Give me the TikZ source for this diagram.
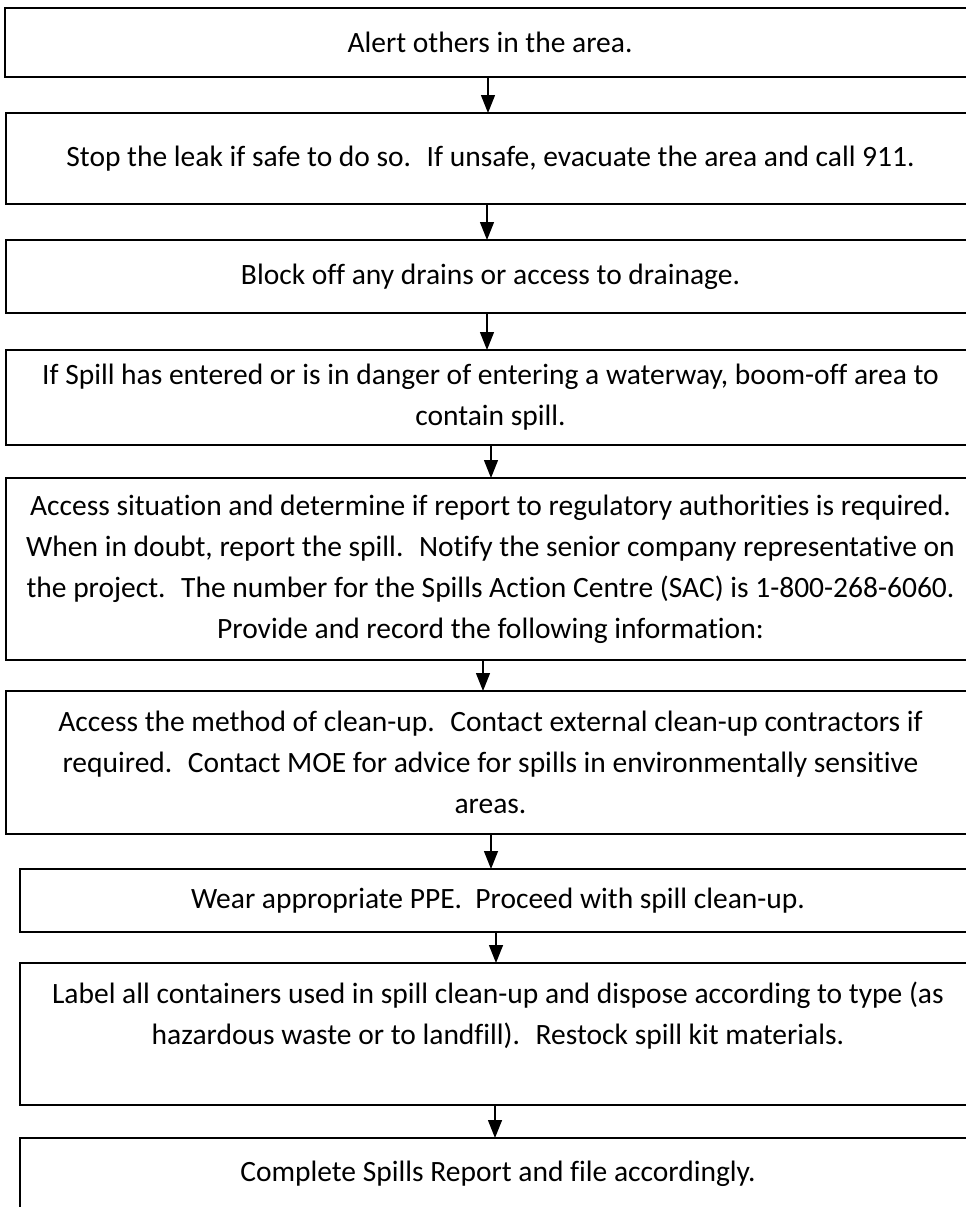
\documentclass[tikz,border=0pt]{standalone}
\usepackage{fontspec}
\setmainfont{Carlito}[Ligatures=NoCommon]
\usetikzlibrary{positioning,calc,arrows.meta}

\begin{document}
\begin{tikzpicture}[x=1pt, y=1pt,
	stepbox/.style={draw, rectangle, line width=1.4pt, anchor=north west, align=center,
		inner sep=0pt, outer sep=0pt, font=\fontsize{29.5}{41}\selectfont},
	flow/.style={-{Triangle[length=18pt,width=14pt]}, line width=1.4pt}]
	\useasboundingbox (0,0) rectangle (966,-1207);

	\node[stepbox, minimum width=970pt, minimum height=69pt] (alert) at (5,-8) {Alert others in the area.};
	\node[stepbox, minimum width=969pt, minimum height=91pt] (leak) at (6,-113) {Stop the leak if safe to do so.~ If unsafe, evacuate the area and call 911.};
	\node[stepbox, minimum width=969pt, minimum height=73pt] (drains) at (6,-240) {Block off any drains or access to drainage.};
	\node[stepbox, minimum width=969pt, minimum height=95pt] (boom) at (6,-350) {If Spill has entered or is in danger of entering a waterway, boom-off area to\\ contain spill.};
	\node[stepbox, minimum width=969pt, minimum height=182pt] (report) at (6,-478) {Access situation and determine if report to regulatory authorities is required.\\ When in doubt, report the spill.~ Notify the senior company representative on\\ the project.~ The number for the Spills Action Centre (SAC) is 1-800-268-6060.\\ Provide and record the following information:};
	\node[stepbox, minimum width=969pt, minimum height=143pt] (method) at (6,-691) {Access the method of clean-up.~ Contact external clean-up contractors if\\ required.~ Contact MOE for advice for spills in environmentally sensitive\\ areas.};
	\node[stepbox, minimum width=956pt, minimum height=63pt] (ppe) at (20,-869) {Wear appropriate PPE.~ Proceed with spill clean-up.};
	\node[stepbox, minimum width=956pt, minimum height=142pt] (label) at (20,-963) {Label all containers used in spill clean-up and dispose according to type (as\\ hazardous waste or to landfill).~ Restock spill kit materials.\\ \mbox{}};
	\node[stepbox, minimum width=956pt, minimum height=72pt] (file) at (20,-1138) {Complete Spills Report and file accordingly.};

	\draw[flow] ([xshift=-2pt]alert.south) -- ([xshift=-2pt]alert.south |- leak.north);
	\draw[flow] ([xshift=-3.5pt]leak.south) -- ([xshift=-3.5pt]leak.south |- drains.north);
	\draw[flow] ([xshift=-3.5pt]drains.south) -- ([xshift=-3.5pt]drains.south |- boom.north);
	\draw[flow] ([xshift=0.5pt]boom.south) -- ([xshift=0.5pt]boom.south |- report.north);
	\draw[flow] ([xshift=-7.5pt]report.south) -- ([xshift=-7.5pt]report.south |- method.north);
	\draw[flow] ([xshift=0.5pt]method.south) -- ([xshift=0.5pt]method.south |- ppe.north);
	\draw[flow] ([xshift=-2pt]ppe.south) -- ([xshift=-2pt]ppe.south |- label.north);
	\draw[flow] ([xshift=-3pt]label.south) -- ([xshift=-3pt]label.south |- file.north);
\end{tikzpicture}
\end{document}
